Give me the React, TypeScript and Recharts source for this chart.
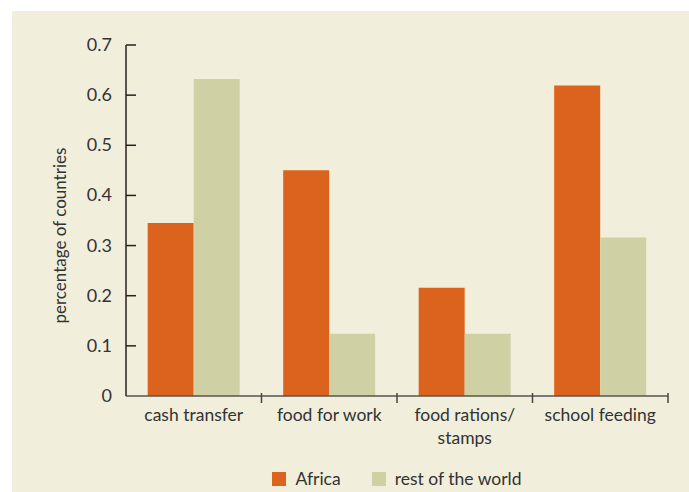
import { BarChart, Bar, XAxis, YAxis, Legend } from 'recharts';

const categories = ['cash transfer', 'food for work', 'food rations/\nstamps', 'school feeding'];
const africa = [0.345, 0.45, 0.216, 0.619];
const restOfWorld = [0.632, 0.124, 0.124, 0.316];
const yTicks = [0, 0.1, 0.2, 0.3, 0.4, 0.5, 0.6, 0.7];

const data = categories.map((name, i) => ({ name, africa: africa[i], rest: restOfWorld[i] }));

const FONT = 'Lato, "Noto Sans", sans-serif';
const TEXT = '#333';

function YTick(props: any) {
  const { x, y, payload } = props;
  const v = payload.value;
  return (
    <g>
      <text x={x} y={y} dy={6} textAnchor="end" fill={TEXT} fontSize={18} fontFamily={FONT}>
        {v === 0 ? '0' : v.toFixed(1)}
      </text>
      {v !== 0 && <line x1={x + 14} x2={x + 24} y1={y} y2={y} stroke="#222" strokeWidth={1.5} />}
    </g>
  );
}

function XTick(props: any) {
  const { x, y, payload } = props;
  const lines = String(payload.value).split('\n');
  const half = payload.offset || 0;
  return (
    <g>
      {lines.map((l, i) => (
        <text key={i} x={x} y={y + 17 + i * 23} textAnchor="middle" fill={TEXT} fontSize={17.5} fontFamily={FONT}>
          {l}
        </text>
      ))}
      <line x1={x + half} x2={x + half} y1={y - 1} y2={y - 11} stroke="#444" strokeWidth={1.5} />
    </g>
  );
}

function LegendContent(props: any) {
  const items = props.payload || [];
  return (
    <div style={{ display: 'flex', justifyContent: 'center', gap: 31, fontFamily: FONT, fontSize: 17.5, color: TEXT }}>
      {items.map((it: any) => (
        <div key={it.value} style={{ display: 'flex', alignItems: 'center', gap: 9 }}>
          <span style={{ width: 14, height: 14, background: it.color, display: 'inline-block' }} />
          <span>{it.value}</span>
        </div>
      ))}
    </div>
  );
}

export default function App() {
  return (
    <div style={{ position: 'absolute', left: 0, top: 0, width: 689, height: 492, background: '#fff' }}>
      <div style={{ position: 'absolute', left: 12, top: 11, right: 0, bottom: 0, background: '#f1eedc' }} />
      <div style={{ position: 'absolute', left: 0, top: 0 }}>
        <BarChart
          width={689}
          height={492}
          data={data}
          margin={{ top: 45, right: 21, bottom: 0, left: 0 }}
          barCategoryGap="16%"
          barGap={0}
        >
          <XAxis
            dataKey="name"
            tick={<XTick />}
            tickLine={false}
            axisLine={{ stroke: '#555', strokeWidth: 1.5 }}
            height={72}
            interval={0}
          />
          <YAxis
            domain={[0, 0.7]}
            ticks={yTicks}
            tick={<YTick />}
            tickLine={false}
            tickSize={0}
            tickMargin={14}
            axisLine={{ stroke: '#222', strokeWidth: 1.5 }}
            width={126}
            label={{
              value: 'percentage of countries',
              angle: -90,
              position: 'insideLeft',
              dx: 55,
              dy: 103,
              fill: TEXT,
              fontSize: 17,
              fontFamily: FONT,
            }}
          />
          <Legend
            verticalAlign="bottom"
            height={24}
            wrapperStyle={{ left: 126, width: 542 }}
            content={<LegendContent />}
          />
          <Bar dataKey="africa" name="Africa" fill="#dc631e" isAnimationActive={false} />
          <Bar dataKey="rest" name="rest of the world" fill="#cfd1a4" isAnimationActive={false} />
        </BarChart>
      </div>
    </div>
  );
}
